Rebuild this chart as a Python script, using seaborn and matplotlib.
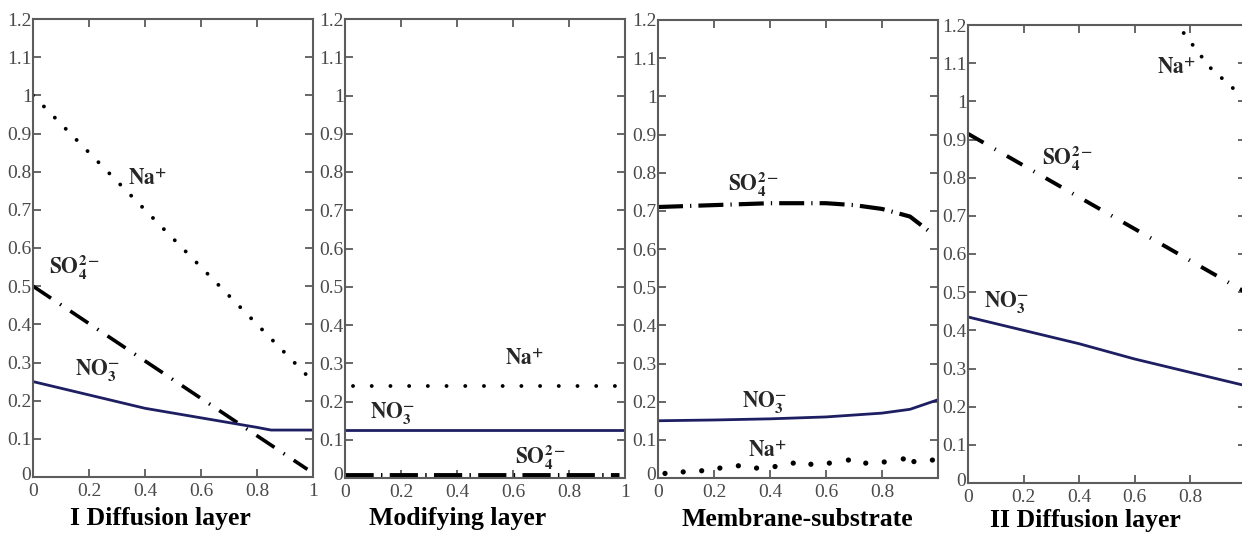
import matplotlib
matplotlib.use("Agg")
import matplotlib.pyplot as plt
import matplotlib.transforms as mtransforms
import seaborn as sns

# ---------------- data ----------------
titles = ["I Diffusion layer", "Modifying layer", "Membrane-substrate", "II Diffusion layer"]
y_ticks = [0, 0.1, 0.2, 0.3, 0.4, 0.5, 0.6, 0.7, 0.8, 0.9, 1.0, 1.1, 1.2]
y_tick_labels = ["0", "0.1", "0.2", "0.3", "0.4", "0.5", "0.6", "0.7", "0.8", "0.9", "1", "1.1", "1.2"]
x_ticks = [0, 0.2, 0.4, 0.6, 0.8, 1.0]
x_tick_labels = ["0", "0.2", "0.4", "0.6", "0.8", "1"]

# Panel 1: I Diffusion layer
p1_na_x = [0.0, 1.0]
p1_na_y = [1.0, 0.25]
p1_so4_x = [0.0, 0.98]
p1_so4_y = [0.50, 0.02]
p1_no3_x = [0.0, 0.2, 0.4, 0.6, 0.8, 0.85, 1.0]
p1_no3_y = [0.25, 0.215, 0.18, 0.155, 0.13, 0.123, 0.123]

# Panel 2: Modifying layer
p2_na_x = [0.03, 1.0]
p2_na_y = [0.24, 0.24]
p2_so4_x = [0.0, 0.98]
p2_so4_y = [0.008, 0.008]
p2_no3_x = [0.0, 1.0]
p2_no3_y = [0.125, 0.125]

# Panel 3: Membrane-substrate
p3_so4_x = [0.0, 0.2, 0.4, 0.6, 0.7, 0.8, 0.9, 0.98]
p3_so4_y = [0.71, 0.715, 0.72, 0.72, 0.715, 0.705, 0.685, 0.64]
p3_no3_x = [0.0, 0.2, 0.4, 0.6, 0.8, 0.9, 1.0]
p3_no3_y = [0.15, 0.152, 0.155, 0.16, 0.17, 0.18, 0.205]
p3_na_x = [0.025, 0.09, 0.156, 0.221, 0.287, 0.352, 0.418, 0.483, 0.546, 0.612,
           0.680, 0.742, 0.808, 0.876, 0.914, 0.980]
p3_na_y = [0.012, 0.016, 0.019, 0.026, 0.032, 0.026, 0.030, 0.039, 0.036, 0.039,
           0.047, 0.039, 0.042, 0.050, 0.043, 0.047]

# Panel 4: II Diffusion layer
p4_na_x = [0.745, 0.87, 1.0]
p4_na_y = [1.21, 1.09, 1.005]
p4_so4_x = [0.0, 1.0]
p4_so4_y = [0.915, 0.50]
p4_no3_x = [0.0, 0.2, 0.4, 0.6, 0.8, 1.0]
p4_no3_y = [0.435, 0.40, 0.365, 0.325, 0.29, 0.255]

# ---------------- style ----------------
sns.set_style("ticks")
plt.rcParams["font.family"] = ["Liberation Serif", "DejaVu Serif"]
plt.rcParams["mathtext.fontset"] = "stix"

NAVY = "#1e1e62"
SPINE = "#5c5c5c"
TICKC = "#4a4a4a"

fig = plt.figure(figsize=(12.42, 5.33), dpi=100)
W, H = 1242.0, 533.0

def make_ax(left, top, right, bottom):
    return fig.add_axes([left / W, 1 - bottom / H, (right - left) / W, (bottom - top) / H])

axes = [
    make_ax(33, 19, 313, 477),
    make_ax(345, 19, 625, 478),
    make_ax(658, 20, 938, 478),
    make_ax(968, 25, 1245.5, 483),
]

NA = r"$\mathbf{Na}^{\mathbf{+}}$"
SO4 = r"$\mathbf{SO}_{\mathbf{4}}^{\mathbf{2-}}$"
NO3 = r"$\mathbf{NO}_{\mathbf{3}}^{\mathbf{-}}$"

def dotted(ax, x, y, gap, lw=2.8):
    sns.lineplot(x=x, y=y, ax=ax, color="black", linewidth=lw,
                 linestyle=(0, (0.01, gap)), dash_capstyle="round", sort=False)

def dashdot(ax, x, y, pattern, lw):
    sns.lineplot(x=x, y=y, ax=ax, color="black", linewidth=lw,
                 linestyle=(0, pattern), sort=False)

def solid(ax, x, y):
    sns.lineplot(x=x, y=y, ax=ax, color=NAVY, linewidth=2.0, sort=False)

ax1, ax2, ax3, ax4 = axes
LF = 15.5
# Panel 1
dotted(ax1, p1_na_x, p1_na_y, 4.0)
dashdot(ax1, p1_so4_x, p1_so4_y, (6.0, 3.0, 0.4, 3.0), 2.6)
solid(ax1, p1_no3_x, p1_no3_y)
ax1.text(0.41, 0.78, NA, fontsize=LF, ha="center", va="center")
ax1.text(0.15, 0.55, SO4, fontsize=LF, ha="center", va="center")
ax1.text(0.23, 0.28, NO3, fontsize=LF, ha="center", va="center")

# Panel 2
dotted(ax2, p2_na_x, p2_na_y, 4.8)
dashdot(ax2, p2_so4_x, p2_so4_y, (5.8, 1.5, 0.3, 1.5), 3.5)
solid(ax2, p2_no3_x, p2_no3_y)
ax2.text(0.64, 0.31, NA, fontsize=LF, ha="center", va="center")
ax2.text(0.17, 0.17, NO3, fontsize=LF, ha="center", va="center")
ax2.text(0.70, 0.055, SO4, fontsize=LF, ha="center", va="center")

# Panel 3
dashdot(ax3, p3_so4_x, p3_so4_y, (6.0, 1.7, 0.3, 1.7), 3.0)
solid(ax3, p3_no3_x, p3_no3_y)
sns.scatterplot(x=p3_na_x, y=p3_na_y, ax=ax3, color="black", s=14, edgecolor="none")
ax3.text(0.34, 0.77, SO4, fontsize=LF, ha="center", va="center")
ax3.text(0.38, 0.20, NO3, fontsize=LF, ha="center", va="center")
ax3.text(0.39, 0.07, NA, fontsize=LF, ha="center", va="center")

# Panel 4
dotted(ax4, p4_na_x, p4_na_y, 3.8)
dashdot(ax4, p4_so4_x, p4_so4_y, (4.6, 3.3, 0.3, 3.3), 2.8)
solid(ax4, p4_no3_x, p4_no3_y)
ax4.text(0.75, 1.085, NA, fontsize=LF, ha="center", va="center")
ax4.text(0.36, 0.85, SO4, fontsize=LF, ha="center", va="center")
ax4.text(0.14, 0.475, NO3, fontsize=LF, ha="center", va="center")

show_one = [True, True, False, False]
lift = mtransforms.ScaledTranslation(-1 / 100, 4 / 100, fig.dpi_scale_trans)
for ax, one in zip(axes, show_one):
    ax.set_xlim(0, 1)
    ax.set_ylim(0, 1.2)
    ax.set_yticks(y_ticks)
    ax.set_yticklabels(y_tick_labels)
    ax.set_xticks(x_ticks)
    labels = list(x_tick_labels)
    if not one:
        labels[-1] = ""
    ax.set_xticklabels(labels)
    ax.tick_params(direction="in", length=6, width=1.3, color=SPINE,
                   top=True, right=True, labelsize=14, labelcolor=TICKC)
    ax.tick_params(axis="x", pad=4)
    ax.tick_params(axis="y", pad=1)
    # lift the y "0" label slightly so it sits at the corner like the reference
    zl = ax.get_yticklabels()[0]
    zl.set_transform(zl.get_transform() + lift)
    for s in ax.spines.values():
        s.set_color(SPINE)
        s.set_linewidth(1.5)
        s.set_visible(True)
    ax.set_xlabel("")
    ax.set_ylabel("")
    ax.set_facecolor("white")

title_pos = [(160, 518), (458, 519), (797, 520), (1085, 520)]
for t, (px, py) in zip(titles, title_pos):
    fig.text(px / W, 1 - py / H, t, fontsize=18.5, fontweight="bold",
             ha="center", va="center", color="black")

fig.savefig("out.png", dpi=100, facecolor="white")
